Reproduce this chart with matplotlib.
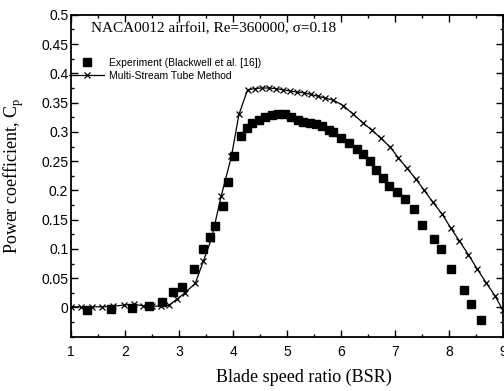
import matplotlib
matplotlib.use('Agg')
import matplotlib.pyplot as plt
from matplotlib.ticker import MultipleLocator, FormatStrFormatter

# Experiment (Blackwell et al.)
exp_bsr = [1.30, 1.74, 2.12, 2.44, 2.69, 2.88, 3.06, 3.28, 3.45, 3.58, 3.67, 3.81,
           3.91, 4.01, 4.14, 4.25, 4.36, 4.49, 4.59, 4.72, 4.84, 4.96, 5.08, 5.20,
           5.30, 5.43, 5.54, 5.64, 5.77, 5.86, 6.00, 6.14, 6.29, 6.41, 6.53, 6.65,
           6.78, 6.89, 7.03, 7.18, 7.36, 7.50, 7.72, 7.85, 8.03, 8.27, 8.41, 8.59]
exp_cp = [-0.005, -0.003, -0.001, 0.002, 0.009, 0.027, 0.035, 0.066, 0.100, 0.121, 0.139, 0.174,
          0.215, 0.258, 0.293, 0.307, 0.316, 0.321, 0.326, 0.329, 0.330, 0.330, 0.326, 0.321,
          0.317, 0.316, 0.313, 0.310, 0.304, 0.300, 0.289, 0.281, 0.270, 0.262, 0.250, 0.235,
          0.222, 0.208, 0.198, 0.185, 0.168, 0.141, 0.117, 0.099, 0.066, 0.030, 0.005, -0.022]

# Multi-Stream Tube Method
mst_bsr = [1.00, 1.18, 1.38, 1.58, 1.78, 1.98, 2.16, 2.34, 2.50, 2.66, 2.82, 2.96,
           3.11, 3.30, 3.45, 3.60, 3.78, 3.97, 4.11, 4.27, 4.40, 4.53, 4.66, 4.79,
           4.92, 5.05, 5.18, 5.31, 5.44, 5.57, 5.70, 5.86, 6.04, 6.23, 6.40, 6.57,
           6.74, 6.91, 7.06, 7.22, 7.39, 7.54, 7.70, 7.87, 8.03, 8.19, 8.36, 8.52,
           8.69, 8.85, 9.00]
mst_cp = [0.001, 0.001, 0.001, 0.001, 0.002, 0.004, 0.005, 0.003, 0.002, 0.002, 0.004, 0.014,
          0.025, 0.041, 0.079, 0.117, 0.190, 0.258, 0.330, 0.372, 0.374, 0.375, 0.375, 0.374,
          0.372, 0.370, 0.368, 0.367, 0.364, 0.361, 0.358, 0.354, 0.345, 0.330, 0.316, 0.303,
          0.289, 0.274, 0.256, 0.238, 0.219, 0.200, 0.180, 0.160, 0.136, 0.114, 0.090, 0.066,
          0.042, 0.020, -0.005]

plt.rcParams['mathtext.fontset'] = 'custom'
plt.rcParams['mathtext.rm'] = 'Liberation Serif'

fig = plt.figure(figsize=(5.04, 3.91), dpi=100)
ax = fig.add_axes([0.141, 0.139, 0.857, 0.823])

ax.plot(exp_bsr, exp_cp, linestyle='none', marker='s', markersize=5.5,
        color='black', label='Experiment (Blackwell et al. [16])')
ax.plot(mst_bsr, mst_cp, linestyle='-', linewidth=0.9, marker='x', markersize=5,
        markeredgewidth=0.9, color='black', label='Multi-Stream Tube Method')

ax.set_xlim(1, 9)
ax.set_ylim(-0.05, 0.5)
ax.set_xticks(range(1, 10))
ax.set_yticks([0, 0.05, 0.1, 0.15, 0.2, 0.25, 0.3, 0.35, 0.4, 0.45, 0.5])
ax.xaxis.set_minor_locator(MultipleLocator(0.5))
ax.yaxis.set_minor_locator(MultipleLocator(0.025))
ax.yaxis.set_major_formatter(FormatStrFormatter('%g'))

ax.tick_params(which='both', direction='in', top=True, right=True, width=1.0)
ax.tick_params(which='major', length=5)
ax.tick_params(which='minor', length=2.5)
ax.tick_params(axis='x', labelsize=10, pad=6)
ax.tick_params(axis='y', labelsize=10, pad=2)
for lab in ax.get_xticklabels() + ax.get_yticklabels():
    lab.set_fontfamily('Liberation Sans')
for sp in ax.spines.values():
    sp.set_linewidth(1.3)

ax.set_xlabel('Blade speed ratio (BSR)', fontsize=13, family='Liberation Serif')
ax.set_ylabel(r'Power coefficient, C$_\mathrm{p}$', fontsize=13, family='Liberation Serif')
ax.xaxis.set_label_coords(0.54, -0.1)
ax.yaxis.set_label_coords(-0.105, 0.5)

ax.text(1.37, 0.476, 'NACA0012 airfoil, Re=360000, σ=0.18', fontsize=11,
        family='Liberation Serif', va='center', ha='left')

ax.legend(loc='upper left', bbox_to_anchor=(-0.004, 0.867), frameon=False,
          prop={'family': 'Liberation Sans', 'size': 7.5}, handlelength=3.3,
          handletextpad=0.5, borderaxespad=0, borderpad=0, labelspacing=0.3,
          numpoints=1)

plt.savefig('out.png', dpi=100)
plt.close()
